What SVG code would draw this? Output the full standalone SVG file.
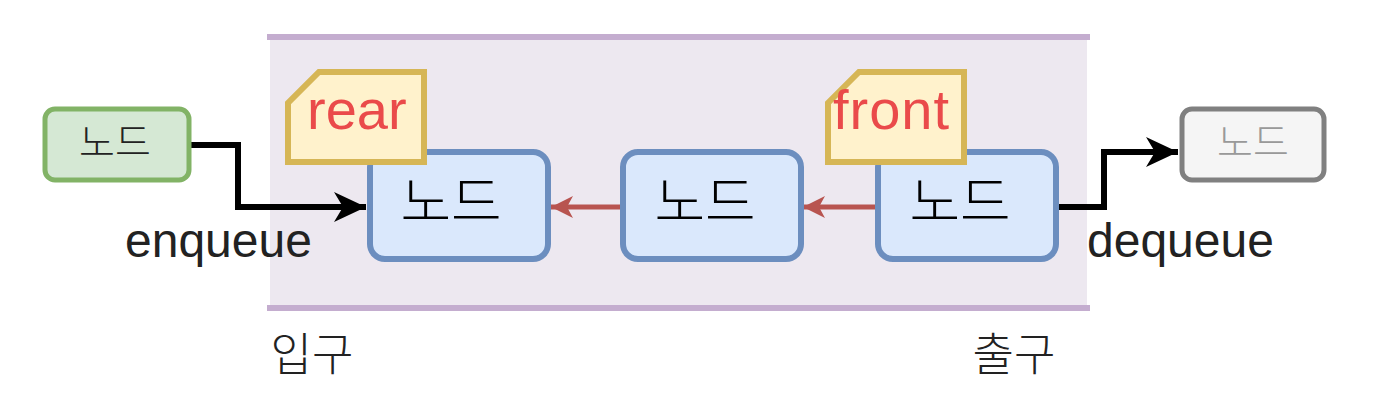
<svg xmlns="http://www.w3.org/2000/svg" width="1390" height="406" viewBox="0 0 1390 406">
<style>
.bg{fill:#ede8f0;stroke:none}
.band{stroke:#c4adcf;stroke-width:6;fill:none}
.blue{fill:#dae8fc;stroke:#6c8ebf;stroke-width:6}
.green{fill:#d5e8d4;stroke:#82b366;stroke-width:5}
.grey{fill:#f5f5f5;stroke:#808080;stroke-width:5}
.note{fill:#fff2cc;stroke:#d6b656;stroke-width:6}
.kr{font-family:"Noto Sans CJK KR","Noto Sans",sans-serif;text-anchor:middle;font-weight:300}
.lat{font-family:"Liberation Sans",Arial,sans-serif}
.red{fill:#ea4a4a;font-size:56px}
.lbl{fill:#222;font-size:48px}
.blk{fill:none;stroke:#000;stroke-width:6}
.rd{fill:none;stroke:#b85450;stroke-width:5}
</style>
<defs>
<marker id="ab" markerUnits="userSpaceOnUse" markerWidth="34" markerHeight="34" refX="32" refY="16" orient="auto">
<path d="M0,1 L32,16 L0,31 L9,16 Z" fill="#000"/>
</marker>
<marker id="ar" markerUnits="userSpaceOnUse" markerWidth="24" markerHeight="24" refX="22" refY="12" orient="auto">
<path d="M0,1 L22,12 L0,23 L6,12 Z" fill="#b85450"/>
</marker>
</defs>
<g id="queue">
<rect class="bg" x="270" y="37" width="817" height="271"/>
<line class="band" x1="267" y1="37" x2="1090" y2="37"/>
<line class="band" x1="267" y1="308" x2="1090" y2="308"/>
</g>
<g id="connectors">
<path class="blk" d="M190,145 H238 V207 H366" marker-end="url(#ab)"/>
<path class="blk" d="M1056,207 H1104 V152 H1178" marker-end="url(#ab)"/>
<path class="rd" d="M622,207 H551" marker-end="url(#ar)"/>
<path class="rd" d="M878,207 H803" marker-end="url(#ar)"/>
</g>
<g id="node-in">
<rect class="green" x="45" y="109" width="144" height="71" rx="10"/>
<text class="kr" x="115" y="156" font-size="39" fill="#222">노드</text>
</g>
<g id="node-out">
<rect class="grey" x="1182" y="109" width="142" height="71" rx="10"/>
<text class="kr" x="1253" y="156" font-size="39" fill="#999">노드</text>
</g>
<g id="node1">
<rect class="blue" x="370" y="152" width="178" height="107" rx="15"/>
<text class="kr" x="451" y="221" font-size="55" fill="#000">노드</text>
</g>
<g id="node2">
<rect class="blue" x="623" y="152" width="178" height="107" rx="15"/>
<text class="kr" x="705" y="221" font-size="55" fill="#000">노드</text>
</g>
<g id="node3">
<rect class="blue" x="878" y="152" width="178" height="107" rx="15"/>
<text class="kr" x="960" y="221" font-size="55" fill="#000">노드</text>
</g>
<g id="rear">
<path class="note" d="M319,72 H424 V162 H288 V103 Z"/>
<text class="lat red" x="307" y="129">rear</text>
</g>
<g id="front">
<path class="note" d="M859,72 H964 V162 H828 V103 Z"/>
<text class="lat red" x="833" y="129" textLength="116">front</text>
</g>
<g id="labels">
<text class="lat lbl" x="125" y="257">enqueue</text>
<text class="lat lbl" x="1087" y="257">dequeue</text>
<text class="kr" x="312" y="371" font-size="45" fill="#222">입구</text>
<text class="kr" x="1014" y="371" font-size="45" fill="#222">출구</text>
</g>
</svg>
